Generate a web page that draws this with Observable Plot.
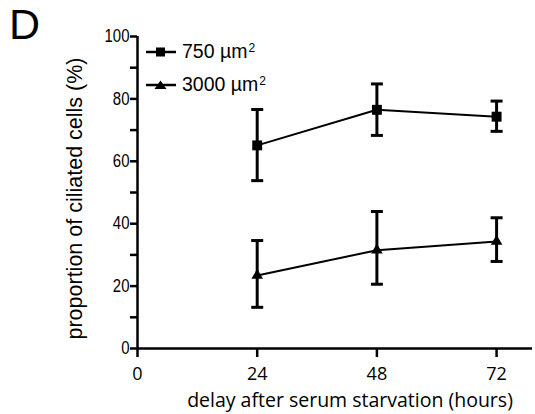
<!DOCTYPE html>
<html><head><meta charset="utf-8">
<script src="https://cdn.jsdelivr.net/npm/d3@7"></script>
<script src="https://cdn.jsdelivr.net/npm/@observablehq/plot@0.6"></script>
<style>
body{margin:0;background:#fff;}
#wrap{position:relative;width:535px;height:414px;overflow:hidden;}
#panel{position:absolute;left:9px;top:3px;font:43px "Liberation Sans",Arial,sans-serif;line-height:1;}
.leg{position:absolute;left:145px;display:flex;align-items:center;font:19.5px "Liberation Sans",Arial,sans-serif;white-space:nowrap;line-height:1;}
.leg svg{margin-right:5px;}
.leg sup{font-size:12px;vertical-align:6px;line-height:0;margin-left:1px;}
g[aria-label="y-axis tick label"]{font-family:"Liberation Sans",Arial,sans-serif;font-size:18px;}
g[aria-label="x-axis tick label"]{font-family:"Open Sans",sans-serif;font-size:18px;}
g[aria-label="text"]{font-family:"Open Sans",sans-serif;font-size:19.5px;}
g[aria-label="text"].ytitle{font-family:"Liberation Sans",Arial,sans-serif;font-size:21.5px;}
</style></head><body><div id="wrap"></div>
<script>
const hours = [24, 48, 72];
const seriesNames = ["750 µm²", "3000 µm²"];
const mean750 = [65.1, 76.5, 74.3];
const lo750 = [53.8, 68.3, 69.6];
const hi750 = [76.6, 84.8, 79.3];
const mean3000 = [23.4, 31.5, 34.3];
const lo3000 = [13.2, 20.6, 27.9];
const hi3000 = [34.6, 43.9, 41.9];
const xTicks = [0, 24, 48, 72];
const yTicks = [0, 10, 20, 30, 40, 50, 60, 70, 80, 90, 100];
const xTitle = "delay after serum starvation (hours)";
const yTitle = "proportion of ciliated cells (%)";

const rows = [];
hours.forEach((h, i) => {
  rows.push({series: seriesNames[0], x: h, y: mean750[i], lo: lo750[i], hi: hi750[i]});
});
hours.forEach((h, i) => {
  rows.push({series: seriesNames[1], x: h, y: mean3000[i], lo: lo3000[i], hi: hi3000[i]});
});
const s750 = rows.filter(d => d.series === seriesNames[0]);
const s3000 = rows.filter(d => d.series === seriesNames[1]);

const cap = {draw(ctx) { ctx.moveTo(-6, 0); ctx.lineTo(6, 0); }};

const chart = Plot.plot({
  width: 535,
  height: 414,
  marginLeft: 137,
  marginTop: 36,
  marginBottom: 66,
  marginRight: 3,
  style: {background: "white", color: "black", overflow: "visible"},
  x: {domain: [0, 79.2]},
  y: {domain: [0, 100]},
  marks: [
    Plot.axisY({ticks: yTicks, tickFormat: d => d % 20 === 0 ? String(d) : "", tickSize: 7, tickPadding: 1, fontSize: 18, strokeWidth: 2.5, label: null}),
    Plot.axisX({ticks: xTicks, tickFormat: d => String(d), tickSize: 9, tickPadding: 10, fontSize: 18, strokeWidth: 2.5, label: null}),
    Plot.ruleX([0], {y1: 0, y2: 100, strokeWidth: 2.5}),
    Plot.ruleY([0], {strokeWidth: 2.5}),
    Plot.ruleX(rows, {x: "x", y1: "lo", y2: "hi", strokeWidth: 3}),
    Plot.dot(rows, {x: "x", y: "lo", symbol: cap, stroke: "black", fill: "none", strokeWidth: 3}),
    Plot.dot(rows, {x: "x", y: "hi", symbol: cap, stroke: "black", fill: "none", strokeWidth: 3}),
    Plot.line(s750, {x: "x", y: "y", strokeWidth: 2}),
    Plot.line(s3000, {x: "x", y: "y", strokeWidth: 2}),
    Plot.dot(s750, {x: "x", y: "y", symbol: "square", r: 5.6, fill: "black", stroke: "none"}),
    Plot.dot(s3000, {x: "x", y: "y", symbol: "triangle", r: 4.3, fill: "black", stroke: "none"}),
    Plot.text([xTitle], {frameAnchor: "bottom", text: d => d, dx: 15, dy: 58, lineAnchor: "bottom", fontSize: 19.5}),
    Plot.text([yTitle], {frameAnchor: "left", text: d => d, rotate: -90, textAnchor: "middle", dx: -62, dy: 6, lineAnchor: "middle", fontSize: 21.5})
  ]
});

const wrap = document.getElementById("wrap");
wrap.appendChild(chart);
chart.querySelectorAll('g[aria-label="text"]').forEach(g => {
  if (g.textContent === yTitle) g.classList.add("ytitle");
});
// condense the y tick labels (narrow face look)
chart.querySelectorAll('g[aria-label="y-axis tick label"] text').forEach(t => {
  if (!t.textContent) return;
  const w = t.getComputedTextLength();
  t.setAttribute("textLength", (w * 0.83).toFixed(2));
  t.setAttribute("lengthAdjust", "spacingAndGlyphs");
});
const panel = document.createElement("div");
panel.id = "panel";
panel.textContent = "D";
wrap.appendChild(panel);

const legendSymbols = [
  '<rect x="11" y="2.5" width="9" height="9" fill="black"/>',
  '<path d="M15.5 2.5 L21.5 11 L9.5 11 Z" fill="black"/>'
];
const legendTops = [42, 75];
seriesNames.forEach((name, i) => {
  const d = document.createElement("div");
  d.className = "leg";
  d.style.top = legendTops[i] + "px";
  const base = name.replace("²", "");
  const hasSup = name.includes("²");
  d.innerHTML = `<svg width="32" height="14"><line x1="1" x2="31" y1="7" y2="7" stroke="black" stroke-width="2.5"/>${legendSymbols[i]}</svg><span>${base}${hasSup ? "<sup>2</sup>" : ""}</span>`;
  wrap.appendChild(d);
});
</script></body></html>
